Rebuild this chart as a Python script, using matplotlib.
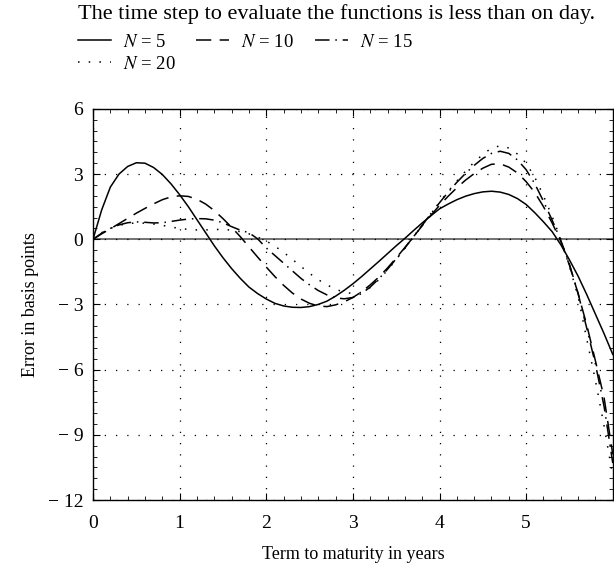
import matplotlib
matplotlib.use('Agg')
import matplotlib.pyplot as plt
from matplotlib.ticker import MultipleLocator
import numpy as np

plt.rcParams['font.family'] = ['Liberation Serif', 'DejaVu Serif']
plt.rcParams['mathtext.fontset'] = 'stix'

# ---- data (error in basis points) ----
term = np.round(np.arange(0, 6.01, 0.1), 1)

err_n5 = [0.0, 1.35, 2.4, 3.0, 3.35, 3.52, 3.5, 3.3, 2.98, 2.55,
          2.05, 1.5, 0.9, 0.3, -0.3, -0.85, -1.35, -1.8, -2.2, -2.5,
          -2.75, -2.95, -3.07, -3.13, -3.14, -3.1, -3.0, -2.85, -2.62, -2.35,
          -2.05, -1.72, -1.37, -1.02, -0.66, -0.3, 0.04, 0.4, 0.75, 1.08,
          1.4, 1.62, 1.82, 1.98, 2.1, 2.18, 2.21, 2.17, 2.06, 1.87,
          1.6, 1.22, 0.8, 0.35, -0.25, -0.95, -1.7, -2.55, -3.45, -4.35,
          -5.3]

err_n10 = [0.0, 0.25, 0.48, 0.72, 0.96, 1.2, 1.42, 1.63, 1.82, 1.95,
           2.0, 1.97, 1.84, 1.62, 1.32, 0.95, 0.55, 0.12, -0.35, -0.82,
           -1.28, -1.72, -2.12, -2.47, -2.75, -2.95, -3.07, -3.1, -3.02, -2.88,
           -2.68, -2.42, -2.1, -1.74, -1.32, -0.86, -0.38, 0.12, 0.62, 1.1,
           1.56, 1.98, 2.37, 2.72, 3.02, 3.27, 3.45, 3.47, 3.32, 3.05,
           2.65, 2.15, 1.5, 0.75, -0.1, -1.2, -2.5, -3.95, -5.6, -7.3,
           -9.9]

err_n15 = [0.0, 0.28, 0.5, 0.66, 0.76, 0.8, 0.78, 0.75, 0.76, 0.82,
           0.88, 0.93, 0.95, 0.94, 0.88, 0.76, 0.58, 0.42, 0.3, 0.02,
           -0.4, -0.75, -1.1, -1.45, -1.8, -2.1, -2.36, -2.56, -2.7, -2.74,
           -2.68, -2.5, -2.2, -1.82, -1.38, -0.9, -0.4, 0.12, 0.65, 1.17,
           1.68, 2.17, 2.62, 3.03, 3.4, 3.72, 3.95, 4.05, 3.95, 3.65,
           3.2, 2.55, 1.75, 0.88, -0.05, -1.15, -2.5, -4.1, -5.75, -7.7,
           -10.3]

err_n20 = [0.0, 0.3, 0.5, 0.64, 0.72, 0.75, 0.74, 0.7, 0.64, 0.56,
           0.5, 0.45, 0.43, 0.43, 0.45, 0.45, 0.42, 0.35, 0.25, 0.1,
           -0.08, -0.32, -0.6, -0.92, -1.25, -1.57, -1.86, -2.1, -2.3, -2.44,
           -2.5, -2.45, -2.22, -1.86, -1.42, -0.93, -0.42, 0.1, 0.64, 1.18,
           1.7, 2.2, 2.68, 3.13, 3.55, 3.9, 4.2, 4.3, 4.2, 3.92,
           3.5, 2.85, 2.0, 1.05, 0.0, -1.25, -2.65, -4.6, -6.5, -8.6,
           -10.9]

x_ticks = [0, 1, 2, 3, 4, 5]
y_ticks = [-12, -9, -6, -3, 0, 3, 6]
y_ticklabels = ['\u2212 12', '\u2212 9', '\u2212 6', '\u2212 3', '0', '3', '6']

fig = plt.figure(figsize=(6.14, 5.70), dpi=100)
ax = fig.add_axes([0.1515, 0.1228, 0.8465, 0.6862])

lw = 1.1
l5, = ax.plot(term, err_n5, color='black', lw=lw, linestyle='-')
l10, = ax.plot(term, err_n10, color='black', lw=lw, linestyle=(0, (10, 5.5)))
l15, = ax.plot(term, err_n15, color='black', lw=lw, linestyle=(0, (9.5, 3.8, 1, 3.8)))
l20, = ax.plot(term, err_n20, color='black', lw=lw, linestyle=(0, (1, 6)))

ax.axhline(0, color='0.4', lw=1.3, zorder=1)

ax.set_xlim(0, 6)
ax.set_ylim(-12, 6)
ax.set_xticks(x_ticks)
ax.set_yticks(y_ticks)
ax.set_yticklabels(y_ticklabels)
ax.xaxis.set_minor_locator(MultipleLocator(0.2))
ax.yaxis.set_minor_locator(MultipleLocator(0.5))
ax.tick_params(which='both', direction='in', top=True, right=True, labelsize=14)
ax.tick_params(which='major', length=5, width=0.8)
ax.tick_params(which='minor', length=3, width=0.6)
ax.tick_params(axis='x', which='major', pad=11)
ax.tick_params(axis='y', which='major', pad=7)
ax.grid(True, which='major', color='black', lw=0.9, linestyle=(0, (1, 8)))
for s in ax.spines.values():
    s.set_linewidth(1.0)

ax.set_xlabel('Term to maturity in years', fontsize=13, labelpad=10)
ax.set_ylabel('Error in basis points', fontsize=13, labelpad=6)

fig.text(0.127, 0.993, 'The time step to evaluate the functions is less than on day.',
         fontsize=16, ha='left', va='top')
# column-major fill: N=5 / N=20 in the first column, then N=10, N=15
fig.legend([l5, l20, l10, l15], ['$N$ = 5', '$N$ = 20', '$N$ = 10', '$N$ = 15'],
           loc='upper left', bbox_to_anchor=(0.127, 0.941), ncol=3, frameon=False,
           fontsize=13.5, handlelength=1.75, handletextpad=0.65, columnspacing=1.1,
           labelspacing=0.25, borderaxespad=0, borderpad=0)

fig.savefig('out.png', dpi=100, facecolor='white')
